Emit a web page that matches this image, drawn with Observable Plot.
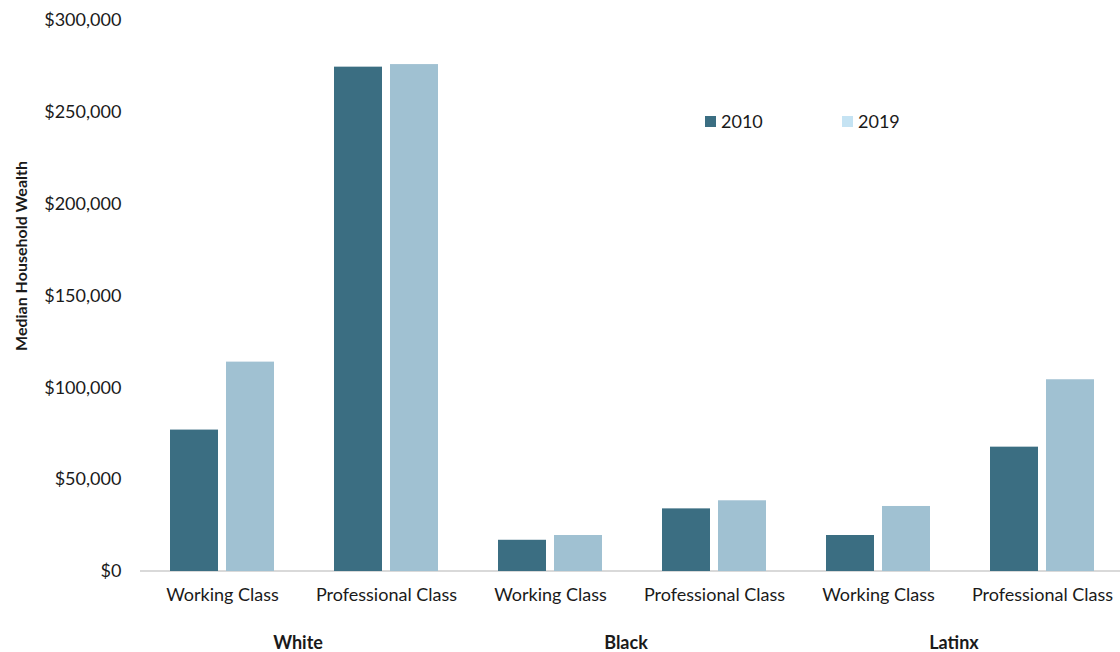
<!DOCTYPE html>
<html>
<head>
<meta charset="utf-8">
<script src="https://cdn.jsdelivr.net/npm/d3@7"></script>
<script src="https://cdn.jsdelivr.net/npm/@observablehq/plot@0.6"></script>
<style>
  html, body { margin: 0; padding: 0; background: #fff; }
  #wrap { position: relative; width: 1120px; height: 652px; font-family: Lato, sans-serif; }
  .legend { position: absolute; top: 110px; font-size: 18px; color: #1a1a1a; display: flex; align-items: center; }
  .legend span.sw { display: inline-block; width: 11px; height: 11px; margin-right: 5px; }
</style>
</head>
<body>
<div id="wrap"></div>
<script>
const races = ["White", "Black", "Latinx"];
const classes = ["Working Class", "Professional Class"];
const years = ["2010", "2019"];
const values2010 = [77000, 274600, 17000, 34100, 19600, 67700];
const values2019 = [114000, 276000, 19600, 38500, 35400, 104400];
const yTicks = [0, 50000, 100000, 150000, 200000, 250000, 300000];
const barColors = ["#3b6e82", "#a0c1d2"];
const legendColors = ["#3b6e82", "#c5e3f3"];

const keys = [];
races.forEach(r => classes.forEach(c => keys.push(r + "|" + c)));
const data = [];
keys.forEach((k, i) => {
  data.push({key: k, year: years[0], value: values2010[i]});
  data.push({key: k, year: years[1], value: values2019[i]});
});

const padIn = 0.367, padOut = 0.164, fxAlign = 0.54;
const stepEst = 980 / (keys.length - padIn + 2 * padOut);
const firstOffset = (980 - stepEst * (keys.length - padIn)) * fxAlign;

const chart = Plot.plot({
  width: 1120,
  height: 652,
  marginTop: 20,
  marginBottom: 81,
  marginLeft: 140,
  marginRight: 0,
  style: {fontFamily: "Lato, sans-serif", fontSize: "18px", color: "#1a1a1a", background: "#fff"},
  fx: {domain: keys, paddingInner: padIn, paddingOuter: padOut, align: fxAlign, axis: "bottom", label: null,
       tickSize: 0, tickPadding: 17, tickFormat: d => d.split("|")[1]},
  x: {domain: years, paddingInner: 0.143, paddingOuter: 0, axis: null},
  y: {domain: [0, 300000], ticks: yTicks, tickSize: 0, tickPadding: 20 + firstOffset, label: null,
      tickFormat: d => "$" + d3.format(",")(d)},
  color: {domain: years, range: barColors},
  marks: [
    Plot.barY(data, {fx: "key", x: "year", y: "value", fill: "year"})
  ]
});

const svg = d3.select(chart);
svg.selectAll("text").style("font-size", "18px");

const yS = chart.scale("y");
const fxS = chart.scale("fx");
const y0 = yS.apply(0);
svg.insert("line", "g")
  .attr("x1", 140).attr("x2", 1120)
  .attr("y1", y0).attr("y2", y0)
  .attr("stroke", "#d9d9d9").attr("stroke-width", 2);

races.forEach(r => {
  const a = fxS.apply(r + "|" + classes[0]);
  const b = fxS.apply(r + "|" + classes[1]) + fxS.bandwidth;
  svg.append("text")
    .attr("x", (a + b) / 2 - 6).attr("y", y0 + 78)
    .attr("text-anchor", "middle")
    .style("font-size", "18px").style("font-weight", "bold")
    .attr("fill", "#1a1a1a")
    .text(r);
});

svg.append("text")
  .attr("transform", "translate(27,256) rotate(-90)")
  .attr("text-anchor", "middle")
  .style("font-size", "16px").style("font-weight", "bold")
  .attr("fill", "#1a1a1a")
  .text("Median Household Wealth");

const wrap = document.getElementById("wrap");
wrap.appendChild(chart);
const lefts = [705, 842];
years.forEach((yr, i) => {
  const d = document.createElement("div");
  d.className = "legend";
  d.style.left = lefts[i] + "px";
  d.innerHTML = `<span class="sw" style="background:${legendColors[i]}"></span>${yr}`;
  wrap.appendChild(d);
});
</script>
</body>
</html>
